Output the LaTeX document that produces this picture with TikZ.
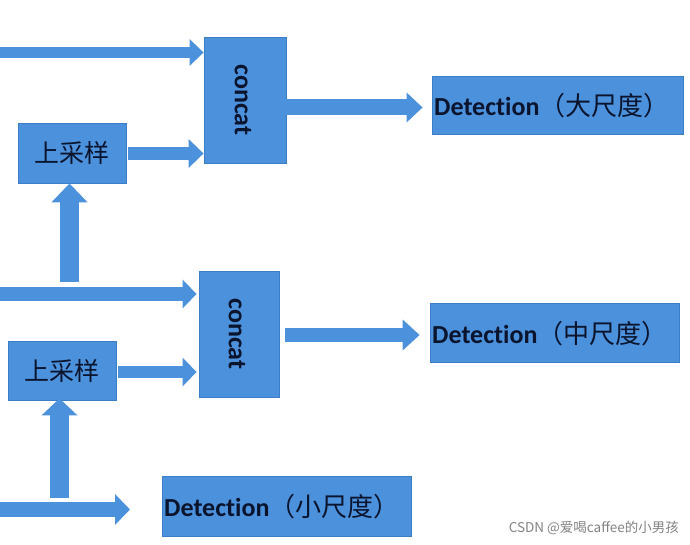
\documentclass[tikz,border=0pt]{standalone}
\usepackage{fontspec}
\setmainfont{Carlito}[Ligatures={NoCommon}]
\newfontfamily\cjk{Noto Sans CJK SC}
\usetikzlibrary{arrows.meta}
\definecolor{boxblue}{RGB}{76,145,220}
\definecolor{edgeblue}{RGB}{60,125,200}
\definecolor{txt}{RGB}{10,20,45}
\definecolor{wm}{RGB}{130,130,130}
\tikzset{
  box/.style={fill=boxblue, draw=edgeblue, line width=0.8pt, inner sep=0pt, text=txt},
  cattext/.style={rotate=-90, font=\bfseries\fontsize{26}{26}\selectfont, text=txt, inner sep=0pt},
  uptext/.style={font=\cjk\fontsize{25}{25}\selectfont},
  dettext/.style={font=\fontsize{26}{26}\selectfont, text=txt, inner sep=0pt, anchor=west},
  barrow/.style n args={3}{draw=boxblue, line width=#1pt, -{Triangle[length=#3pt, width=#2pt]}},
}
\begin{document}
\begin{tikzpicture}[x=1pt, y=-1pt]
\useasboundingbox (0,0) rectangle (690,545);
% boxes
\node[box, minimum width=82pt, minimum height=126pt] (c1) at (245,100) {};
\node[cattext] (c1t) at (243,100) {concat};
\node[box, uptext, minimum width=108pt, minimum height=60pt] (u1) at (72,153) {上采样};
\node[box, minimum width=251pt, minimum height=58pt] (d1) at (557.5,105) {};
\node[dettext] (d1t) at (434,106) {\bfseries Detection{\cjk\mdseries （大尺度）}};

\node[box, minimum width=80pt, minimum height=126pt] (c2) at (239,334) {};
\node[cattext] (c2t) at (237,334) {concat};
\node[box, uptext, minimum width=108pt, minimum height=59pt] (u2) at (62,370.5) {上采样};
\node[box, minimum width=249pt, minimum height=59pt] (d2) at (554.5,332.5) {};
\node[dettext] (d2t) at (432,334) {\bfseries Detection{\cjk\mdseries （中尺度）}};

\node[box, minimum width=249pt, minimum height=60pt] (d3) at (286.5,506) {};
\node[dettext] (d3t) at (164,507) {\bfseries Detection{\cjk\mdseries （小尺度）}};

% free ends
\coordinate (in1) at (0,52.5);
\coordinate (in2) at (0,294);
\coordinate (in3) at (0,509.5);
\coordinate (v1) at (69.5,282);
\coordinate (v2) at (59.5,498);
\coordinate (out3) at (130,509.5);

% arrows
\draw[barrow={11}{26}{14}] (in1) -- (in1 -| c1.west);
\draw[barrow={13}{28}{15}] (u1.east |- 0,153.5) ++(2,0) -- (c1.west |- 0,153.5);
\draw[barrow={16}{29}{16}] (c1.east |- 0,107.5) -- ([xshift=-9pt]d1.west |- 0,107.5);
\draw[barrow={19}{35}{19}] (v1) -- (v1 |- u1.south);

\draw[barrow={14}{28}{14}] (in2) -- ([xshift=-2pt]in2 -| c2.west);
\draw[barrow={12}{28}{14}] (u2.east |- 0,372) ++(2,0) -- ([xshift=-2pt]c2.west |- 0,372);
\draw[barrow={14}{30}{17}] (c2.east |- 0,335) ++(6,0) -- ([xshift=-10pt]d2.west |- 0,335);
\draw[barrow={19}{35}{17}] (v2) -- ([yshift=2pt]v2 |- u2.south);
\draw[barrow={15}{30}{15}] (in3) -- (out3);

% watermark
\node[font=\cjk\fontsize{13.5}{14}\selectfont, text=wm, anchor=east, inner sep=0pt] (wmk) at (679,528) {CSDN @爱喝caffee的小男孩};
\end{tikzpicture}
\end{document}
